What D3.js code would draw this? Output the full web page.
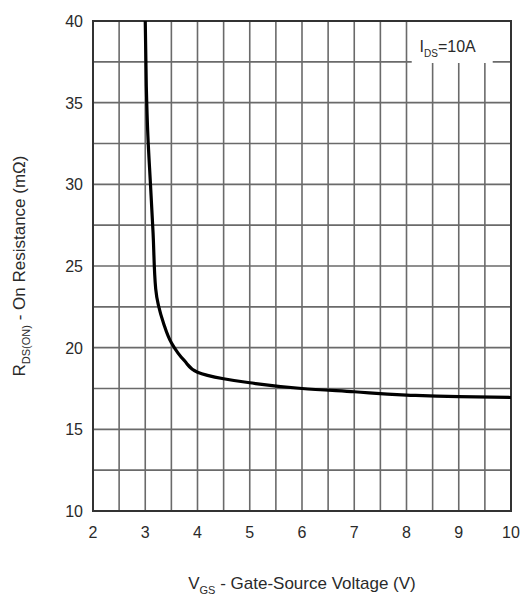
<!DOCTYPE html>
<html>
<head>
<meta charset="utf-8">
<script src="https://cdn.jsdelivr.net/npm/d3@7"></script>
<style>
  body { margin: 0; background: #fff; }
  text { font-family: "Liberation Sans", Arial, sans-serif; fill: #2a2a2a; }
</style>
</head>
<body>
<div id="chart"></div>
<script>
// RDS(on) vs VGS
var vgs = [3.0, 3.02, 3.05, 3.1, 3.15, 3.2, 3.35, 3.5, 3.75, 4.0, 4.5, 5, 6, 7, 8, 9, 10]
var rdsOn = [40, 36, 33, 30, 27, 23.6, 21.5, 20.3, 19.2, 18.5, 18.1, 17.85, 17.5, 17.3, 17.1, 17.0, 16.95]
var xTicks = [2, 3, 4, 5, 6, 7, 8, 9, 10]
var yTicks = [10, 15, 20, 25, 30, 35, 40]

var svgWidth = 523, svgHeight = 599
var margin = { top: 21, right: 12, bottom: 88, left: 93 }
var width = svgWidth - margin.left - margin.right,
    height = svgHeight - margin.top - margin.bottom

var svg = d3.select('#chart').append('svg')
    .attr('width', svgWidth)
    .attr('height', svgHeight)
    .append('g')
    .attr('transform', 'translate(' + margin.left + ',' + margin.top + ')')

var x = d3.scaleLinear().domain([2, 10]).range([0, width])
var y = d3.scaleLinear().domain([10, 40]).range([height, 0])

// grid: every 0.5 V and every 2.5 mOhm
var grid = svg.append('g').attr('stroke', '#6a6a6a').attr('stroke-width', 1.6)
grid.selectAll('line.v')
    .data(d3.range(2.5, 10, 0.5))
    .join('line')
    .attr('x1', d => x(d)).attr('x2', d => x(d))
    .attr('y1', 0).attr('y2', height)
grid.selectAll('line.h')
    .data(d3.range(12.5, 40, 2.5))
    .join('line')
    .attr('y1', d => y(d)).attr('y2', d => y(d))
    .attr('x1', 0).attr('x2', width)

// frame
svg.append('rect')
    .attr('width', width).attr('height', height)
    .attr('fill', 'none').attr('stroke', '#333').attr('stroke-width', 2)

// legend box covers the grid
svg.append('rect')
    .attr('x', x(8.1)).attr('y', 1)
    .attr('width', x(9.65) - x(8.1)).attr('height', 41)
    .attr('fill', '#fff')
var leg = svg.append('text')
    .attr('x', x(8.25)).attr('y', 31)
    .style('font-size', '16px')
leg.append('tspan').text('I')
leg.append('tspan').attr('dy', 5).style('font-size', '10px').text('DS')
leg.append('tspan').attr('dy', -5).text('=10A')

// curve
var line = d3.line()
    .x((d, i) => x(vgs[i]))
    .y(d => y(d))
    .curve(d3.curveMonotoneY)
svg.append('path')
    .datum(rdsOn)
    .attr('d', line)
    .attr('fill', 'none')
    .attr('stroke', '#000')
    .attr('stroke-width', 3.2)

// tick labels
svg.append('g').selectAll('text')
    .data(xTicks)
    .join('text')
    .attr('x', d => x(d)).attr('y', height + 27)
    .attr('text-anchor', 'middle')
    .style('font-size', '16px')
    .text(d => d)
svg.append('g').selectAll('text')
    .data(yTicks)
    .join('text')
    .attr('x', -10).attr('y', d => y(d) + 6)
    .attr('text-anchor', 'end')
    .style('font-size', '16px')
    .text(d => d)

// axis titles
var xt = svg.append('text')
    .attr('x', width / 2).attr('y', height + 78)
    .attr('text-anchor', 'middle')
    .style('font-size', '17px')
xt.append('tspan').text('V')
xt.append('tspan').attr('dy', 5).style('font-size', '11px').text('GS')
xt.append('tspan').attr('dy', -5).text(' - Gate-Source Voltage (V)')

var yt = svg.append('text')
    .attr('transform', 'translate(-68,' + (height / 2) + ') rotate(-90)')
    .attr('text-anchor', 'middle')
    .style('font-size', '17px')
yt.append('tspan').text('R')
yt.append('tspan').attr('dy', 5).style('font-size', '11px').text('DS(ON)')
yt.append('tspan').attr('dy', -5).text(' - On Resistance (mΩ)')
</script>
</body>
</html>
